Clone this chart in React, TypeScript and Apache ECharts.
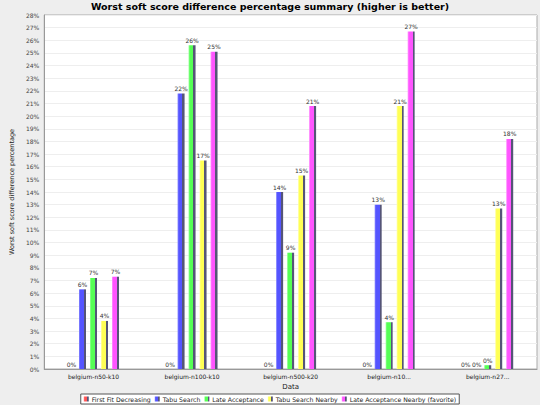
import React, { useEffect, useRef } from 'react';
import * as echarts from 'echarts';

// Dataset labels as shown on the x axis (long names are cut off in the original)
const categories = [
  'belgium-n50-k10',
  'belgium-n100-k10',
  'belgium-n500-k20',
  'belgium-n10...',
  'belgium-n27...'
];

const seriesNames = [
  'First Fit Decreasing',
  'Tabu Search',
  'Late Acceptance',
  'Tabu Search Nearby',
  'Late Acceptance Nearby (favorite)'
];

// worst soft score difference, in percent
const firstFitDecreasing = [0, 0, 0, 0, 0];
const tabuSearch = [6.3, 21.8, 14.0, 13.0, 0];
const lateAcceptance = [7.2, 25.6, 9.2, 3.7, 0.3];
const tabuSearchNearby = [3.8, 16.5, 15.3, 20.8, 12.7];
const lateAcceptanceNearby = [7.3, 25.1, 20.8, 26.7, 18.2];

const yMax = 28;

const colors = ['#ff5555', '#5555ff', '#55ff55', '#ffff55', '#ff55ff'];
const lightColors = ['#ff8888', '#8888ff', '#99ff99', '#ffffaa', '#ff99ff'];

const barColor = (i: number) =>
  new echarts.graphic.LinearGradient(0, 0, 1, 0, [
    { offset: 0, color: lightColors[i] },
    { offset: 0.2, color: colors[i] },
    { offset: 0.7, color: colors[i] },
    { offset: 0.7, color: '#555577' },
    { offset: 1, color: '#555577' }
  ]);

const App = () => {
  const chartRef = useRef<HTMLDivElement>(null);

  useEffect(() => {
    const chart = echarts.init(chartRef.current!, undefined, { renderer: 'svg' });
    const font = 'DejaVu Sans';
    const allData = [
      firstFitDecreasing,
      tabuSearch,
      lateAcceptance,
      tabuSearchNearby,
      lateAcceptanceNearby
    ];

    chart.setOption({
      animation: false,
      backgroundColor: '#eeeeee',
      textStyle: { fontFamily: font },
      title: {
        text: 'Worst soft score difference percentage summary (higher is better)',
        left: 'center',
        top: 1,
        padding: 0,
        textStyle: { fontSize: 9.5, fontWeight: 'bold', color: '#000', fontFamily: font }
      },
      legend: {
        bottom: 1,
        left: 'center',
        icon: 'rect',
        itemWidth: 5,
        itemHeight: 5,
        itemGap: 4,
        padding: [2, 3],
        borderColor: '#555',
        borderWidth: 1,
        backgroundColor: '#fff',
        textStyle: { fontSize: 6.2, color: '#222', fontFamily: font, padding: [0, 0, 0, -2] },
        data: seriesNames
      },
      grid: {
        left: 31,
        right: 3,
        top: 15,
        bottom: 36,
        show: true,
        backgroundColor: '#ffffff',
        borderColor: '#aaaaaa',
        borderWidth: 1
      },
      xAxis: {
        type: 'category',
        data: categories,
        name: 'Data',
        nameLocation: 'middle',
        nameGap: 14,
        nameTextStyle: { fontSize: 7, color: '#222', fontFamily: font },
        axisLine: { lineStyle: { color: '#999' } },
        axisTick: { show: false },
        axisLabel: { fontSize: 6, color: '#222', margin: 4, fontFamily: font }
      },
      yAxis: {
        type: 'value',
        min: 0,
        max: yMax,
        interval: 1,
        name: 'Worst soft score difference percentage',
        nameLocation: 'middle',
        nameGap: 23,
        nameTextStyle: { fontSize: 6.5, color: '#222', fontFamily: font },
        axisLine: { show: true, lineStyle: { color: '#999' } },
        axisTick: { show: false },
        axisLabel: {
          fontSize: 6,
          color: '#444',
          margin: 5,
          fontFamily: font,
          formatter: (v: number) => `${v}%`
        },
        splitLine: { lineStyle: { color: '#eeeeee', width: 1 } }
      },
      series: allData.map((data, i) => ({
        name: seriesNames[i],
        type: 'bar',
        data,
        barWidth: 7,
        barGap: '57%',
        itemStyle: { color: barColor(i) },
        label: {
          show: true,
          position: 'top',
          distance: 2,
          fontSize: 6,
          color: '#333',
          fontFamily: font,
          formatter: (p: any) => `${Math.round(p.value)}%`
        }
      })),
      color: colors
    });

    return () => {
      chart.dispose();
    };
  }, []);

  return (
    <div
      ref={chartRef}
      style={{ position: 'fixed', left: 0, top: 0, width: 540, height: 405 }}
    />
  );
};

export default App;
